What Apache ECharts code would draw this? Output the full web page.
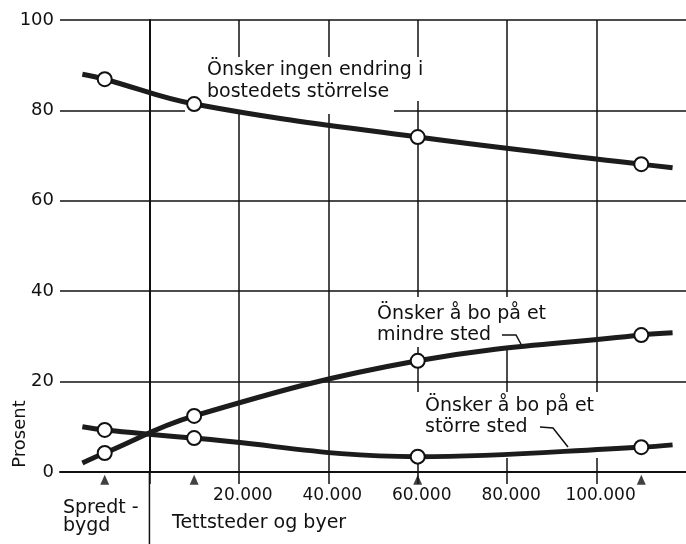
<!DOCTYPE html>
<html>
<head>
<meta charset="utf-8">
<script src="https://cdn.jsdelivr.net/npm/echarts@6/dist/echarts.min.js"></script>
<style>
  html, body { margin: 0; padding: 0; background: #fff; }
  #chart { width: 686px; height: 544px; }
</style>
</head>
<body>
<div id="chart"></div>
<script>
// points measured on each curve (x = size of place, -10000 = "Spredtbygd")
const xValues = [-10000, 10000, 60000, 110000]
const ingenEndring = [86.9, 81.4, 74.1, 68.1]
const mindreSted = [4.2, 12.4, 24.6, 30.3]
const storreSted = [9.3, 7.5, 3.4, 5.5]

// where each drawn curve starts and stops
const lineStartX = -15000
const lineEndX = 117000
const ingenEndringEnds = [88.0, 67.3]
const mindreStedEnds = [2.0, 30.8]
const storreStedEnds = [10.0, 6.0]

const xTickValues = [0, 20000, 40000, 60000, 80000, 100000]
const xLabelValues = [20000, 40000, 60000, 80000, 100000]
const arrowY = -1.7

const font = '"DejaVu Sans", sans-serif'
const ink = "#111"

const buildLine = (vals, ends) => [
  { value: [lineStartX, ends[0]], symbol: "none" },
  ...xValues.map((x, i) => [x, vals[i]]),
  { value: [lineEndX, ends[1]], symbol: "none" }
]

const curve = (name, vals, ends) => ({
  name: name,
  type: "line",
  data: buildLine(vals, ends),
  smooth: 0.4,
  symbol: "circle",
  symbolSize: 14,
  showAllSymbol: true,
  z: 3,
  lineStyle: { color: "#1c1c1c", width: 5 },
  itemStyle: { color: "#fff", borderColor: ink, borderWidth: 2 },
  emphasis: { disabled: true }
})

const txt = (text, x, y, extra) => ({
  type: "text",
  x: x,
  y: y,
  z: 1,
  silent: true,
  style: Object.assign({
    text: text,
    fill: ink,
    font: "19px " + font,
    align: "left",
    verticalAlign: "middle"
  }, extra || {})
})

const whiteBox = (x, y, w, h) => ({
  type: "rect",
  z: 1,
  silent: true,
  shape: { x: x, y: y, width: w, height: h },
  style: { fill: "#fff" }
})

const leader = (points) => ({
  type: "polyline",
  z: 1,
  silent: true,
  shape: { points: points },
  style: { stroke: ink, lineWidth: 1.5, fill: null }
})

const chart = echarts.init(document.getElementById("chart"))

const labels = [
  txt("Önsker ingen endring i", 207, 70),
  txt("bostedets störrelse", 207, 92),
  txt("Önsker å bo på et", 377, 314),
  txt("mindre sted", 377, 335),
  leader([[502, 335], [516, 335], [522, 346]]),
  txt("Önsker å bo på et", 425, 406),
  txt("större sted", 425, 427),
  leader([[540, 427], [553, 428], [568, 447]]),
  txt("Spredt -", 63, 508),
  txt("bygd", 63, 526),
  txt("Tettsteder og byer", 172, 523)
]
const yTitle = txt("Prosent", 20, 434, { align: "center", font: "18px " + font })
yTitle.rotation = Math.PI / 2

const option = {
  animation: false,
  backgroundColor: "#fff",
  grid: { left: 60, top: 20, right: 0, bottom: 72 },
  xAxis: {
    type: "value",
    min: -20000,
    max: 120000,
    interval: 20000,
    axisLine: { show: true, onZero: false, lineStyle: { color: ink, width: 2 } },
    axisTick: {
      show: true,
      customValues: xTickValues,
      length: 12,
      lineStyle: { color: ink, width: 1.5 }
    },
    axisLabel: {
      customValues: xLabelValues,
      color: ink,
      fontSize: 17,
      fontFamily: font,
      margin: 15,
      padding: [0, 0, 0, 8],
      formatter: (v) => String(v).replace(/\B(?=(\d{3})+(?!\d))/g, ".")
    },
    splitLine: { show: true, lineStyle: { color: ink, width: 1.5 } }
  },
  yAxis: {
    type: "value",
    min: 0,
    max: 100,
    interval: 20,
    axisLine: { show: true, lineStyle: { color: ink, width: 2 } },
    axisTick: { show: false },
    axisLabel: { color: ink, fontSize: 18, fontFamily: font, margin: 6 },
    splitLine: { show: true, lineStyle: { color: ink, width: 1.5 } }
  },
  series: [
    curve("Önsker ingen endring i bostedets störrelse", ingenEndring, ingenEndringEnds),
    curve("Önsker å bo på et mindre sted", mindreSted, mindreStedEnds),
    curve("Önsker å bo på et större sted", storreSted, storreStedEnds),
    {
      type: "scatter",
      data: xValues.map((x) => [x, arrowY]),
      symbol: "triangle",
      symbolSize: [9, 10],
      clip: false,
      silent: true,
      itemStyle: { color: ink }
    }
  ],
  graphic: [
    // white patches where the labels break the grid
    whiteBox(200, 57, 230, 44),
    whiteBox(185, 99, 209, 15),
    whiteBox(372, 297, 195, 50),
    whiteBox(405, 392, 215, 66),
    yTitle
  ].concat(labels)
}

chart.setOption(option)

// the line at 0 runs on down to the foot of the page, between the two labels
const sepX = chart.convertToPixel({ xAxisIndex: 0 }, 0)
const axisY = chart.convertToPixel({ yAxisIndex: 0 }, 0)
chart.setOption({
  graphic: option.graphic.concat([{
    type: "line",
    z: 1,
    silent: true,
    shape: { x1: sepX, y1: axisY, x2: sepX, y2: 544 },
    style: { stroke: ink, lineWidth: 1.5 }
  }])
})
</script>
</body>
</html>
